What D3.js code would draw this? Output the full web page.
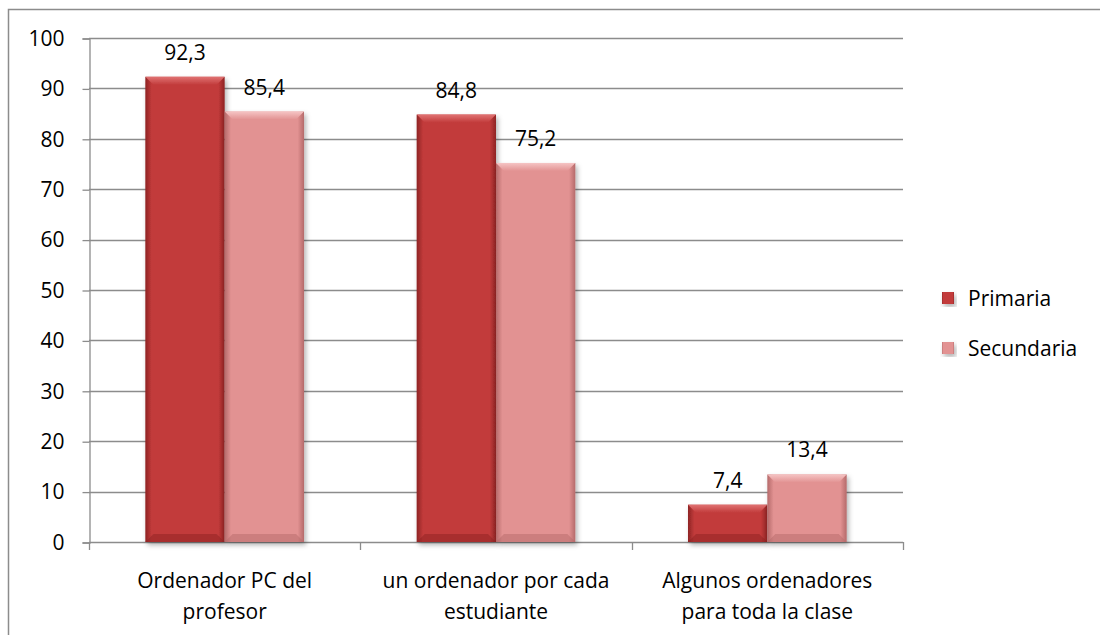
<!DOCTYPE html>
<html>
<head>
<meta charset="utf-8">
<script src="https://cdn.jsdelivr.net/npm/d3@7"></script>
<style>
  body { margin: 0; background: #fff; }
  svg { display: block; font-family: "Open Sans", Lato, sans-serif; }
</style>
</head>
<body>
<svg id="chart" width="1100" height="635"></svg>
<script>
// data
const categories = [
    ["Ordenador PC del", "profesor"],
    ["un ordenador por cada", "estudiante"],
    ["Algunos ordenadores", "para toda la clase"]
];
const seriesNames = ["Primaria", "Secundaria"];
const primaria = [92.3, 84.8, 7.4];
const secundaria = [85.4, 75.2, 13.4];
const yTicks = [0, 10, 20, 30, 40, 50, 60, 70, 80, 90, 100];

const W = 1100, H = 635;
const plot = { left: 89, right: 903, top: 38, bottom: 542 };
const FS = 21;

const svg = d3.select("#chart");

// colours per series: base, light, dark
const palette = [
    { base: "#c23b3b", light: "#e07272", dark: "#8e2323" },
    { base: "#e29292", light: "#f5c4c4", dark: "#b56a6a" }
];

// gradients for bevelled look
const defs = svg.append("defs");
palette.forEach((p, i) => {
    const g = defs.append("linearGradient").attr("id", "body" + i)
        .attr("x1", 0).attr("x2", 1).attr("y1", 0).attr("y2", 0);
    g.append("stop").attr("offset", "0%").attr("stop-color", p.dark);
    g.append("stop").attr("offset", "8%").attr("stop-color", p.base);
    g.append("stop").attr("offset", "92%").attr("stop-color", p.base);
    g.append("stop").attr("offset", "100%").attr("stop-color", p.dark);
    const t = defs.append("linearGradient").attr("id", "top" + i)
        .attr("x1", 0).attr("x2", 0).attr("y1", 0).attr("y2", 1);
    t.append("stop").attr("offset", "0%").attr("stop-color", p.light);
    t.append("stop").attr("offset", "100%").attr("stop-color", p.base);
});
const sh = defs.append("filter").attr("id", "shadow")
    .attr("x", "-10%").attr("y", "-10%").attr("width", "130%").attr("height", "130%");
sh.append("feDropShadow").attr("dx", 2).attr("dy", 3).attr("stdDeviation", 2.5)
    .attr("flood-color", "#000").attr("flood-opacity", 0.3);

// outer border (only top and left visible in the reference)
svg.append("path")
    .attr("d", `M8.5,${H} V9.5 H${W}`)
    .attr("fill", "none").attr("stroke", "#8c8c8c").attr("stroke-width", 1.5);

const x0 = d3.scaleBand().domain(d3.range(categories.length))
    .range([plot.left, plot.right]).paddingInner(0).paddingOuter(0);
const x1 = d3.scaleBand().domain(d3.range(seriesNames.length))
    .range([0, x0.bandwidth()]).paddingInner(0).paddingOuter(0.71);
const y = d3.scaleLinear().domain([0, 100]).range([plot.bottom, plot.top]);

// gridlines
svg.append("g").selectAll("line")
    .data(yTicks.filter(d => d > 0))
    .join("line")
    .attr("x1", plot.left).attr("x2", plot.right)
    .attr("y1", d => Math.round(y(d)) + 0.5).attr("y2", d => Math.round(y(d)) + 0.5)
    .attr("stroke", "#8c8c8c").attr("stroke-width", 1.3);

// y axis
const yAxis = svg.append("g")
    .attr("transform", `translate(${plot.left + 0.5},0.5)`)
    .call(d3.axisLeft(y).tickValues(yTicks).tickSize(7).tickPadding(18)
        .tickFormat(d3.format("d")));
yAxis.select(".domain").attr("stroke", "#8c8c8c").attr("stroke-width", 1.3);
yAxis.selectAll(".tick line").attr("stroke", "#8c8c8c").attr("stroke-width", 1.3);
yAxis.selectAll(".tick text").attr("font-size", FS).attr("fill", "#000")
    .attr("font-family", "'Open Sans', sans-serif");

// x axis line + category boundary ticks
const bounds = d3.range(categories.length + 1).map(i =>
    i < categories.length ? x0(i) : x0(categories.length - 1) + x0.bandwidth());
svg.append("line")
    .attr("x1", plot.left).attr("x2", plot.right)
    .attr("y1", plot.bottom + 0.5).attr("y2", plot.bottom + 0.5)
    .attr("stroke", "#8c8c8c").attr("stroke-width", 1.3);
svg.append("g").selectAll("line").data(bounds).join("line")
    .attr("x1", d => Math.round(d) + 0.5).attr("x2", d => Math.round(d) + 0.5)
    .attr("y1", plot.bottom).attr("y2", plot.bottom + 8)
    .attr("stroke", "#8c8c8c").attr("stroke-width", 1.3);

// category labels
const catG = svg.append("g");
categories.forEach((lines, i) => {
    const t = catG.append("text")
        .attr("x", x0(i) + x0.bandwidth() / 2)
        .attr("y", 588)
        .attr("text-anchor", "middle")
        .attr("font-size", FS).attr("fill", "#000");
    lines.forEach((ln, j) => {
        t.append("tspan").attr("x", x0(i) + x0.bandwidth() / 2)
            .attr("dy", j === 0 ? 0 : 31).text(ln);
    });
});

// bars
const series = [primaria, secundaria];
function drawBar(g, bx, by, bw, bh, s) {
    const bev = Math.min(8, bh / 2, bw / 6);
    const grp = g.append("g").attr("filter", "url(#shadow)");
    grp.append("rect").attr("x", bx).attr("y", by).attr("width", bw).attr("height", bh)
        .attr("fill", `url(#body${s})`);
    // top bevel
    grp.append("path")
        .attr("d", `M${bx},${by} H${bx + bw} L${bx + bw - bev},${by + bev} H${bx + bev} Z`)
        .attr("fill", `url(#top${s})`);
    // bottom bevel
    grp.append("path")
        .attr("d", `M${bx},${by + bh} H${bx + bw} L${bx + bw - bev},${by + bh - bev} H${bx + bev} Z`)
        .attr("fill", palette[s].dark).attr("opacity", 0.5);
}

const barsG = svg.append("g");
series.forEach((vals, s) => {
    vals.forEach((v, i) => {
        const bx = x0(i) + x1(s);
        const bw = x1.bandwidth();
        const by = y(v);
        drawBar(barsG, bx, by, bw, plot.bottom - by, s);
    });
});

// value labels
const labG = svg.append("g");
series.forEach((vals, s) => {
    vals.forEach((v, i) => {
        labG.append("text")
            .attr("x", x0(i) + x1(s) + x1.bandwidth() / 2)
            .attr("y", y(v) - 17)
            .attr("text-anchor", "middle")
            .attr("font-size", FS).attr("fill", "#000")
            .text(d3.format(".1f")(v).replace(".", ","));
    });
});

// legend
const leg = svg.append("g").attr("transform", "translate(942,292)");
seriesNames.forEach((name, s) => {
    const row = leg.append("g").attr("transform", `translate(0,${s * 50})`);
    row.append("rect").attr("width", 12).attr("height", 12)
        .attr("fill", `url(#body${s})`).attr("filter", "url(#shadow)");
    row.append("rect").attr("x", 2).attr("y", 2).attr("width", 8).attr("height", 8)
        .attr("fill", palette[s].base);
    row.append("text").attr("x", 26).attr("y", 14)
        .attr("font-size", FS).attr("fill", "#000").text(name);
});
</script>
</body>
</html>
